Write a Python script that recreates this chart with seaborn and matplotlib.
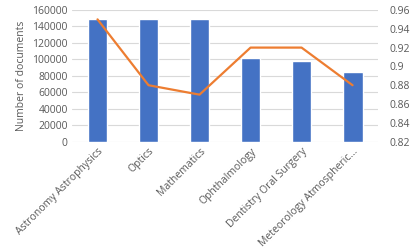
import matplotlib
matplotlib.use("Agg")
import matplotlib.pyplot as plt
import seaborn as sns
import pandas as pd

categories = ["Astronomy Astrophysics", "Optics", "Mathematics", "Ophthalmology",
              "Dentistry Oral Surgery", "Meteorology Atmospheric..."]
documents = [149000, 149000, 149000, 102000, 98000, 85000]
scores = [0.95, 0.88, 0.87, 0.92, 0.92, 0.88]
left_ticks = [0, 20000, 40000, 60000, 80000, 100000, 120000, 140000, 160000]
right_ticks = [0.82, 0.84, 0.86, 0.88, 0.9, 0.92, 0.94, 0.96]
right_labels = ["0.82", "0.84", "0.86", "0.88", "0.9", "0.92", "0.94", "0.96"]

df = pd.DataFrame({"category": categories, "documents": documents, "score": scores})

sns.set_style("white")
plt.rcParams["font.family"] = ["Open Sans", "DejaVu Sans"]
text_color = "#595959"
grid_color = "#D9D9D9"

fig = plt.figure(figsize=(4.15, 2.49), dpi=100)
ax = fig.add_axes([0.1735, 0.431, 0.911 - 0.1735, 0.96 - 0.431])

sns.barplot(data=df, x="category", y="documents", color="#4472C4", width=0.39,
            saturation=1, ax=ax, zorder=2)
ax.set_ylim(0, 160000)
ax.set_yticks(left_ticks)
ax.set_yticklabels([str(t) for t in left_ticks])
ax.yaxis.grid(True, color=grid_color, linewidth=0.8, zorder=0)
ax.set_axisbelow(True)
ax.set_xlim(-0.5, len(categories) - 0.5)
ax.set_xlabel("")
ax.set_ylabel("Number of documents", fontsize=7.5, color=text_color)
ax.tick_params(axis="both", length=0, labelsize=7.5, colors=text_color, pad=3)
ax.set_xticks(range(len(categories)))
ax.set_xticklabels(categories, rotation=45, ha="right", rotation_mode="anchor")
for s in ax.spines.values():
    s.set_visible(False)

ax2 = ax.twinx()
sns.lineplot(data=df, x="category", y="score", color="#ED7D31", linewidth=1.6,
             ax=ax2, sort=False)
ax2.set_ylim(0.82, 0.96)
ax2.set_yticks(right_ticks)
ax2.set_yticklabels(right_labels)
ax2.set_ylabel("")
ax2.set_xlabel("")
ax2.tick_params(axis="y", length=0, labelsize=7.5, colors=text_color, pad=8)
for s in ax2.spines.values():
    s.set_visible(False)

fig.savefig("out.png", dpi=100)
